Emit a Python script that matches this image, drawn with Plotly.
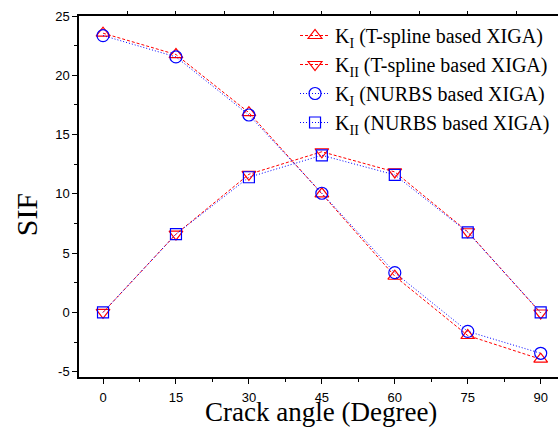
import plotly.graph_objects as go

angles = [0, 15, 30, 45, 60, 75, 90]
ki_tspline = [23.55, 21.75, 16.85, 10.0, 3.05, -1.95, -3.95]
kii_tspline = [0.0, 6.6, 11.65, 13.55, 11.85, 6.8, -0.05]
ki_nurbs = [23.35, 21.55, 16.65, 10.05, 3.35, -1.6, -3.45]
kii_nurbs = [0.0, 6.6, 11.4, 13.25, 11.6, 6.75, 0.0]

x_ticks = [0, 15, 30, 45, 60, 75, 90]
y_ticks = [-5, 0, 5, 10, 15, 20, 25]
y_ticktext = ["-5", "0", "5", "10", "15", "20", "25"]
top_ticks = [-5, 5, 15, 25, 35, 45, 55, 65, 75, 85]

names = [
    "K<sub>I</sub> (T-spline based XIGA)",
    "K<sub>II</sub> (T-spline based XIGA)",
    "K<sub>I</sub> (NURBS based XIGA)",
    "K<sub>II</sub> (NURBS based XIGA)",
]

RED = "#ff0000"
BLUE = "#0000ff"

fig = go.Figure()
series = [
    (ki_tspline, names[0], RED, "3px,2px", "triangle-up-open", 12),
    (kii_tspline, names[1], RED, "3px,2px", "triangle-down-open", 12),
    (ki_nurbs, names[2], BLUE, "1px,2px", "circle-open", 12),
    (kii_nurbs, names[3], BLUE, "1px,2px", "square-open", 11),
]
for ys, nm, col, dash, sym, sz in series:
    fig.add_trace(go.Scatter(
        x=angles, y=ys, name=nm, mode="lines+markers",
        line=dict(color=col, width=1, dash=dash),
        marker=dict(symbol=sym, size=sz, color=col, line=dict(color=col, width=1.2)),
    ))

# invisible trace for the top axis ticks
fig.add_trace(go.Scatter(x=[None], y=[None], xaxis="x2", showlegend=False, hoverinfo="skip"))

xr = [-4.94, 93.56]
yr = [-5.45, 25]
plot_h = 428 - 16 - 51
plot_w = 558 - 79

serif = "Liberation Serif, Times New Roman, serif"
sans = "Liberation Sans, Arial, sans-serif"

fig.update_layout(
    width=558, height=428,
    margin=dict(l=79, r=0, t=16, b=51),
    paper_bgcolor="white", plot_bgcolor="white",
    showlegend=True,
    legend=dict(
        x=0.451, y=1.0, xanchor="left", yanchor="top",
        bgcolor="rgba(0,0,0,0)", borderwidth=0,
        font=dict(family=serif, size=20, color="black"),
        itemwidth=30, tracegroupgap=0,
    ),
    xaxis=dict(
        range=xr, tickvals=x_ticks, ticktext=[str(v) for v in x_ticks],
        showgrid=False, zeroline=False, automargin=False,
        showline=True, linecolor="black", linewidth=1.5,
        ticks="outside", ticklen=5, tickwidth=1.2, tickcolor="black",
        ticklabelstandoff=3,
        minor=dict(dtick=7.5, tick0=0, ticks="outside", ticklen=3, tickcolor="black", tickwidth=1),
        tickfont=dict(family=sans, size=13, color="black"),
    ),
    xaxis2=dict(
        overlaying="x", side="top", range=xr, tickvals=top_ticks,
        showticklabels=False, showgrid=False, zeroline=False, automargin=False,
        showline=True, linecolor="black", linewidth=1.5,
        ticks="outside", ticklen=3, tickwidth=1, tickcolor="black",
    ),
    yaxis=dict(
        range=yr, tickvals=y_ticks, ticktext=y_ticktext,
        showgrid=False, zeroline=False, automargin=False,
        showline=True, linecolor="black", linewidth=1.5,
        ticks="outside", ticklen=5, tickwidth=1.2, tickcolor="black",
        minor=dict(dtick=2.5, tick0=0, ticks="outside", ticklen=3, tickcolor="black", tickwidth=1),
        tickfont=dict(family=sans, size=13, color="black"),
    ),
    annotations=[
        dict(
            text="SIF", textangle=-90, xref="paper", yref="paper",
            x=(26 - 79) / plot_w, y=(376.7 - 215) / plot_h, xanchor="center", yanchor="middle",
            showarrow=False,
            font=dict(family=serif, size=30, color="black"),
        ),
        dict(
            text="Crack angle (Degree)", xref="paper", yref="paper",
            x=(321 - 79) / plot_w, y=(377 - 412) / plot_h, xanchor="center", yanchor="middle",
            showarrow=False,
            font=dict(family=serif, size=27, color="black"),
        ),
    ],
)

fig.write_html("out.html")
